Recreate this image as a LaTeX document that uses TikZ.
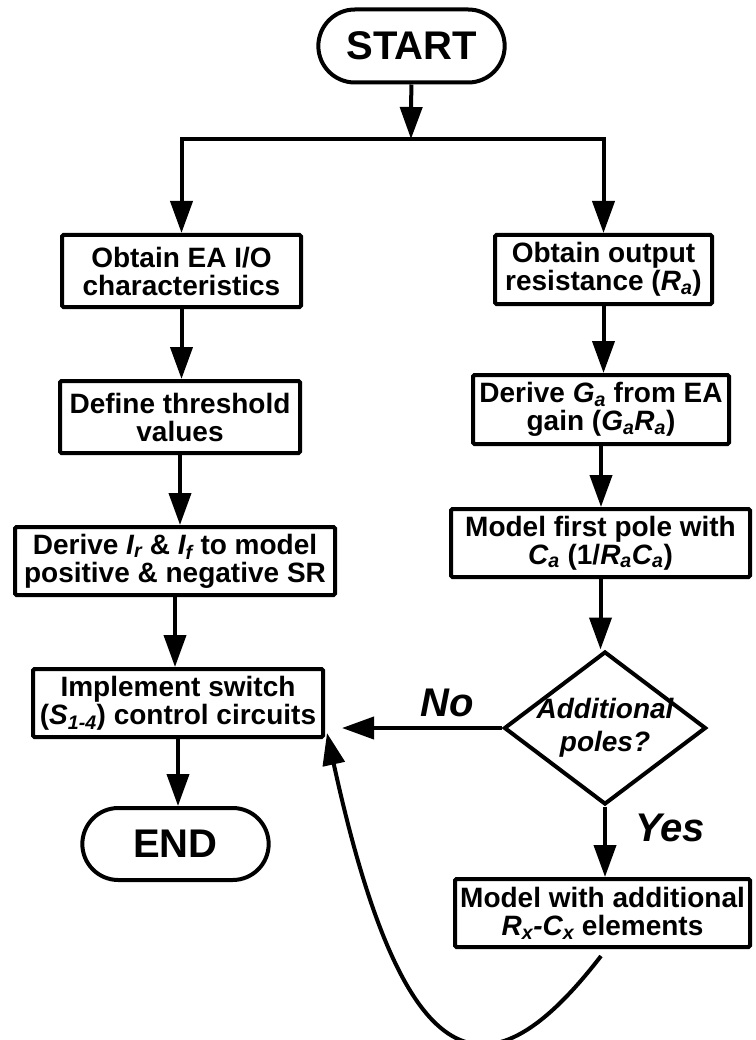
\documentclass[tikz,border=0pt]{standalone}
\usepackage{fontspec}
\setmainfont{Liberation Sans}
\usepackage{tikz}
\usetikzlibrary{calc,arrows.meta,positioning,shapes.geometric,shapes.misc}

\begin{document}
\begin{tikzpicture}[x=1pt,y=-1pt,
    every node/.style={font=\fontsize{28}{28}\selectfont\bfseries},
    block/.style={draw,line width=4pt,rounded corners=1.5pt,align=center,inner sep=0pt},
    terminal/.style={draw,line width=4pt,rounded rectangle,minimum width=193pt,
      minimum height=73pt,font=\fontsize{40}{40}\selectfont\bfseries},
    decision/.style={draw,line width=4pt,diamond,minimum width=202pt,
      minimum height=153pt,inner sep=0pt},
    answer/.style={font=\fontsize{40}{40}\selectfont\bfseries\itshape},
    flow/.style={line width=4pt,-{Triangle[length=32pt,width=22pt]}}]
  \useasboundingbox (0,0) rectangle (755,1040);

	  \node[terminal] (start) at (411.5,46) {START};
	  \coordinate (split) at (411,139);

	  % left branch
	  \node[block,minimum width=239pt,minimum height=72pt] (obtainio) at (181.5,271)
	    {Obtain EA I/O\\characteristics};
	  \node[block,minimum width=240pt,minimum height=72pt] (threshold) at (180,417)
	    {Define threshold\\values};
	  \node[block,minimum width=320pt,minimum height=68pt] (slewrate) at (175,561)
	    {Derive \textit{I\textsubscript{r}} \& \textit{I\textsubscript{f}} to model\\positive \& negative SR};
	  \node[block,minimum width=290pt,minimum height=68pt] (implement) at (178,703)
	    {Implement switch\\(\textit{S\textsubscript{1-4}}) control circuits};
	  \node[terminal,minimum height=72pt] (end) at (175.5,844) {END};

	  % right branch
	  \node[block,minimum width=217pt,minimum height=69pt] (outres) at (603.5,269.5)
	    {Obtain output\\resistance (\textit{R\textsubscript{a}})};
	  \node[block,minimum width=256pt,minimum height=69pt] (gain) at (601,409.5)
	    {Derive \textit{G\textsubscript{a}} from EA\\gain (\textit{G\textsubscript{a}R\textsubscript{a}})};
	  \node[block,minimum width=299pt,minimum height=68pt] (firstpole) at (600.5,543)
	    {Model first pole with\\\textit{C\textsubscript{a}} (1/\textit{R\textsubscript{a}C\textsubscript{a}})};
	  \node[decision,label={[font=\fontsize{28}{33}\selectfont\bfseries\itshape,align=center]center:Additional\\poles?}]
	    (additional) at (605,728) {};
	  \node[block,minimum width=295pt,minimum height=68pt] (extrapoles) at (602.5,913)
	    {Model with additional\\\textit{R\textsubscript{x}-C\textsubscript{x}} elements};

	  \node[answer] (no) at (447,703) {No};
	  \node[answer] (yes) at (670,828) {Yes};

	  \coordinate (noend) at ($(implement.east |- additional)+(17,0)$);
	  \coordinate (loopstart) at (601,956);
	  \coordinate (loopend) at (327,733);

	  \draw[flow] (start) -- (split);
	  \draw[flow] (split) -| (obtainio.north);
	  \draw[flow] (split) -| (outres.north);
	  \draw[flow] (obtainio.south) -- (obtainio.south |- threshold.north);
	  \draw[flow] (threshold.south) -- (threshold.south |- slewrate.north);
	  \draw[flow] (slewrate.south) -- (slewrate.south |- implement.north);
	  \draw[flow] (implement.south) -- (implement.south |- end.north);
	  \draw[flow] (outres.south) -- (outres.south |- gain.north);
	  \draw[flow] (gain.south) -- (gain.south |- firstpole.north);
	  \draw[flow] (firstpole.south) -- (firstpole.south |- additional.north);
	  \draw[flow] (additional.south) -- (additional.south |- extrapoles.north);
	  \draw[flow] (additional.west) -- (noend);
	  \draw[flow] (loopstart) .. controls (490,1100) and (405,1090) .. (loopend);
\end{tikzpicture}
\end{document}
